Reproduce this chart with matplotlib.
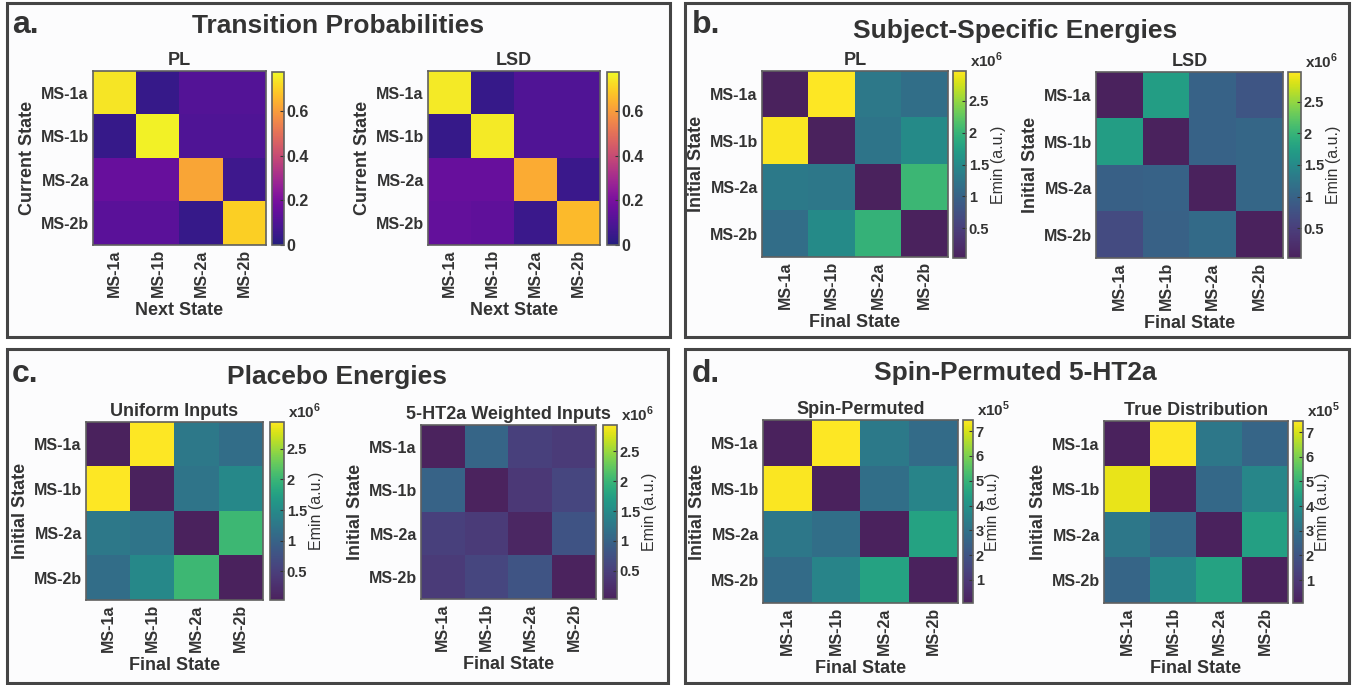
import numpy as np
import matplotlib
matplotlib.use("Agg")
import matplotlib.pyplot as plt
from matplotlib.patches import Rectangle
from matplotlib.colors import ListedColormap
from matplotlib.ticker import FuncFormatter

plt.rcParams["font.family"] = ["Liberation Sans", "DejaVu Sans"]
plt.rcParams["font.weight"] = "bold"
plt.rcParams["axes.titleweight"] = "bold"
plt.rcParams["axes.labelweight"] = "bold"
plt.rcParams["mathtext.fontset"] = "custom"
plt.rcParams["mathtext.rm"] = "Liberation Sans:bold"
plt.rcParams["mathtext.bf"] = "Liberation Sans:bold"
plt.rcParams["text.color"] = "#333333"
plt.rcParams["axes.labelcolor"] = "#333333"
plt.rcParams["axes.titlecolor"] = "#333333"
plt.rcParams["xtick.color"] = "#333333"
plt.rcParams["ytick.color"] = "#333333"

states = ["MS-1a", "MS-1b", "MS-2a", "MS-2b"]

# a. transition probabilities (rows: current state, cols: next state)
tp_pl = [[0.74, 0.04, 0.11, 0.11],
         [0.04, 0.76, 0.10, 0.10],
         [0.16, 0.16, 0.62, 0.06],
         [0.13, 0.13, 0.04, 0.70]]
tp_lsd = [[0.75, 0.04, 0.105, 0.105],
          [0.04, 0.75, 0.105, 0.105],
          [0.16, 0.16, 0.63, 0.05],
          [0.15, 0.14, 0.05, 0.66]]

# b. subject-specific energies, x10^6
se_pl = [[0.03, 2.97, 1.29, 1.16],
         [2.95, 0.03, 1.24, 1.50],
         [1.30, 1.28, 0.03, 2.03],
         [1.15, 1.50, 1.98, 0.03]]
se_lsd = [[0.03, 1.74, 1.00, 0.82],
          [1.74, 0.03, 1.00, 1.05],
          [0.97, 1.00, 0.03, 1.05],
          [0.68, 0.98, 1.10, 0.03]]

# c. placebo energies, x10^6
pe_uniform = [[0.03, 2.94, 1.28, 1.13],
              [2.94, 0.03, 1.22, 1.47],
              [1.28, 1.22, 0.03, 2.03],
              [1.13, 1.47, 2.03, 0.03]]
pe_weighted = [[0.05, 1.02, 0.53, 0.44],
               [1.00, 0.05, 0.40, 0.60],
               [0.53, 0.45, 0.12, 0.79],
               [0.44, 0.60, 0.80, 0.05]]

# d. spin-permuted 5-HT2a, x10^5
sp_perm = [[0.07, 7.45, 3.25, 2.80],
           [7.40, 0.07, 2.90, 3.60],
           [3.20, 2.90, 0.07, 4.50],
           [2.80, 3.60, 4.50, 0.07]]
sp_true = [[0.07, 7.45, 3.20, 2.60],
           [7.20, 0.07, 2.70, 3.65],
           [3.20, 2.70, 0.07, 4.40],
           [2.60, 3.70, 4.50, 0.07]]


def faded(name, amount):
    # the source figure has washed-out dark ends; mimic that
    x = np.linspace(0, 1, 256)
    c = plt.get_cmap(name)(x)[:, :3]
    w = (amount * (1 - x) ** 2)[:, None]
    grey = np.array([0.33, 0.32, 0.42])
    return ListedColormap(c * (1 - w) + grey * w)


vir = faded("viridis", 0.42)
pla = faded("plasma", 0.3)

W, H = 1356, 685
fig = plt.figure(figsize=(W / 100, H / 100), dpi=100)
fig.patch.set_facecolor("white")


def box(l, t, r, b):
    return [l / W, 1 - b / H, (r - l) / W, (b - t) / H]


# panel frames
for l, t, r, b in [(7, 3, 670, 337), (685, 3, 1349, 337),
                   (7, 349, 668, 683), (685, 349, 1349, 683)]:
    fig.add_artist(Rectangle((l / W, 1 - b / H), (r - l) / W, (b - t) / H,
                             transform=fig.transFigure, fc="#fcfcfd",
                             ec="#454545", lw=2.2, zorder=-1))

# panel letters and titles
for txt, x, y in [("a.", 12, 33), ("b.", 692, 33), ("c.", 12, 382), ("d.", 692, 382)]:
    fig.text(x / W, 1 - y / H, txt, fontsize=23, ha="left", va="baseline")
for txt, x, y in [("Transition Probabilities", 338, 33),
                  ("Subject-Specific Energies", 1015, 38),
                  ("Placebo Energies", 337, 384),
                  ("Spin-Permuted 5-HT2a", 1015, 380)]:
    fig.text(x / W, 1 - y / H, txt, fontsize=19, ha="center", va="baseline")


def heat(data, cmap, vmin, vmax, hm, cb, title, xlab, ylab, ticks,
         scale=1.0, expo=None, cblab=None, cbfs=10.5):
    ax = fig.add_axes(box(*hm))
    im = ax.imshow(np.array(data) * scale, cmap=cmap, vmin=vmin * scale,
                   vmax=vmax * scale, aspect="auto", interpolation="nearest")
    ax.set_xticks(range(4))
    ax.set_yticks(range(4))
    ax.set_xticklabels(states, rotation=90, fontsize=11.5)
    ax.set_yticklabels(states, fontsize=11.5)
    ax.tick_params(length=0, pad=3)
    ax.set_title(title, fontsize=13, pad=4)
    ax.set_xlabel(xlab, fontsize=13, labelpad=3)
    ax.set_ylabel(ylab, fontsize=13, labelpad=3)
    for s in ax.spines.values():
        s.set_color("#606060")
        s.set_linewidth(1.2)

    cax = fig.add_axes(box(*cb))
    cbar = fig.colorbar(im, cax=cax)
    cbar.set_ticks([t * scale for t in ticks])
    cbar.ax.yaxis.set_major_formatter(FuncFormatter(lambda v, p: "%g" % round(v / scale, 3)))
    cbar.ax.tick_params(direction="in", length=3, width=0.8, labelsize=cbfs, pad=2,
                        color="#333333")
    cbar.outline.set_edgecolor("#606060")
    cbar.outline.set_linewidth(1.2)
    if cblab:
        cbar.set_label(cblab, fontsize=11.5, fontweight="normal", labelpad=1)
    if expo:
        fig.text((cb[2] + 4) / W, 1 - (cb[1] - 4) / H, "x10$^{%s}$" % expo,
                 fontsize=11, ha="left", va="baseline")
    return ax


lab = "Emin (a.u.)"
heat(tp_pl, pla, 0, 0.775, (93, 71, 266, 245), (272, 72, 284, 245),
     "PL", "Next State", "Current State", [0, 0.2, 0.4, 0.6], cbfs=11.5)
heat(tp_lsd, pla, 0, 0.775, (428, 71, 600, 245), (607, 72, 619, 245),
     "LSD", "Next State", "Current State", [0, 0.2, 0.4, 0.6], cbfs=11.5)

t6 = [0.5, 1, 1.5, 2, 2.5]
heat(se_pl, vir, 0.03, 2.97, (762, 71, 948, 257), (953, 71, 966, 258),
     "PL", "Final State", "Initial State", t6, 1e6, "6", lab)
heat(se_lsd, vir, 0.03, 2.97, (1096, 72, 1283, 258), (1288, 72, 1301, 258),
     "LSD", "Final State", "Initial State", t6, 1e6, "6", lab)

heat(pe_uniform, vir, 0.03, 2.94, (86, 422, 263, 600), (270, 422, 284, 600),
     "Uniform Inputs", "Final State", "Initial State", t6, 1e6, "6", lab)
heat(pe_weighted, vir, 0.03, 2.94, (421, 425, 596, 599), (603, 425, 617, 599),
     "5-HT2a Weighted Inputs", "Final State", "Initial State", t6, 1e6, "6", lab)

t5 = [1, 2, 3, 4, 5, 6, 7]
heat(sp_perm, vir, 0.07, 7.45, (763, 420, 958, 603), (963, 420, 973, 603),
     "Spin-Permuted", "Final State", "Initial State", t5, 1e5, "5", lab)
heat(sp_true, vir, 0.07, 7.45, (1104, 421, 1288, 603), (1293, 421, 1303, 603),
     "True Distribution", "Final State", "Initial State", t5, 1e5, "5", lab)

fig.savefig("out.png", dpi=100)
print("Wrote out.png")
